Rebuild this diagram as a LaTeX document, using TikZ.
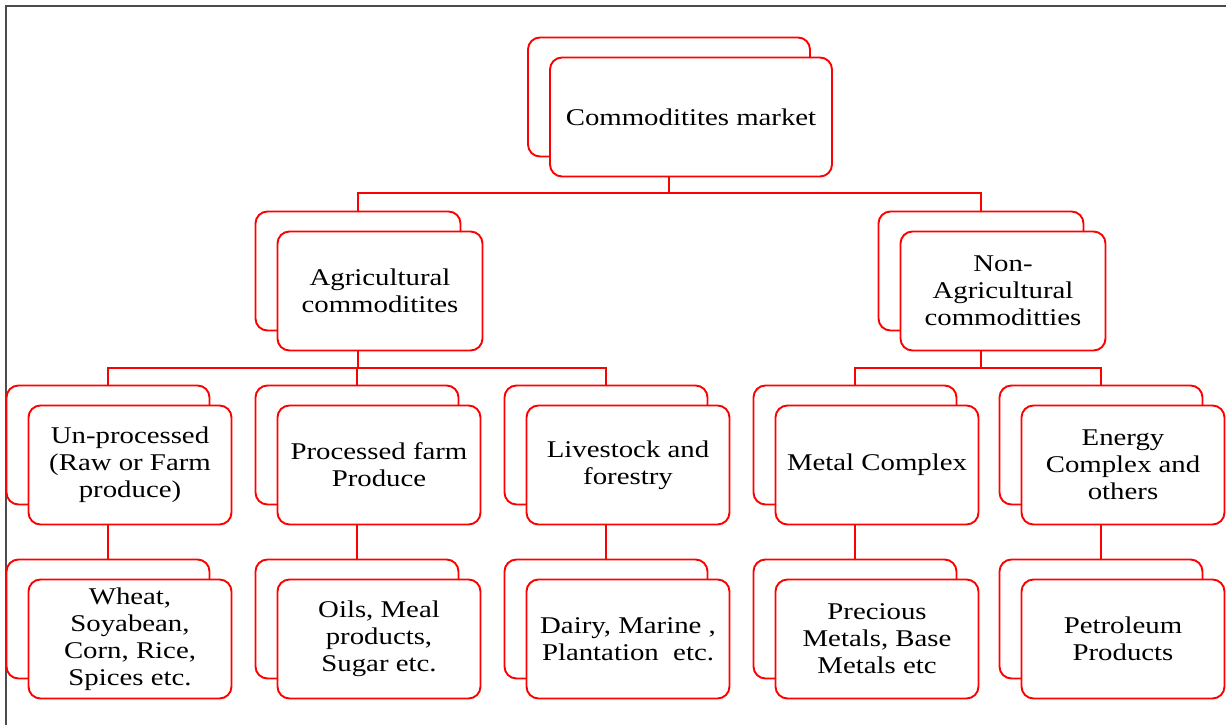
\documentclass[tikz,border=0pt]{standalone}
\usepackage{fontspec}
\setmainfont{Liberation Serif}[FakeStretch=1.2]
\begin{document}
\begin{tikzpicture}[x=1pt,y=-1pt,
  box/.style={draw=red, line width=1.9pt, fill=white, rounded corners=12pt,
    minimum width=203pt, minimum height=119pt, inner sep=0pt, align=center,
    font=\fontsize{24}{27}\selectfont, text=black},
  conn/.style={draw=red, line width=1.9pt},
  frame/.style={draw=black!70, line width=1.5pt}]
\useasboundingbox (0,0) rectangle (1226,725);
\newcommand\dbox[5][203]{%
  \node[box, minimum width=#1pt] (#2b) at (#3-22,#4-20) {};
  \node[box, minimum width=#1pt] (#2) at (#3,#4) {#5};}
\draw[frame] (6,725) -- (6,6) -- (1226,6);
% level 1
\dbox[282]{t}{691}{117}{Commoditites market}
% level 2
\dbox[205]{a}{380}{291}{Agricultural\\commoditites}
\dbox[205]{n}{1003}{291}{Non-\\Agricultural\\commoditties}
% level 3
\dbox{u1}{130}{465}{Un-processed\\(Raw or Farm\\produce)}
\dbox{u2}{379}{465}{Processed farm\\Produce}
\dbox{u3}{628}{465}{Livestock and\\forestry}
\dbox{u4}{877}{465}{Metal Complex}
\dbox{u5}{1123}{465}{Energy\\Complex and\\others}
% level 4
\dbox{v1}{130}{639}{Wheat,\\Soyabean,\\Corn, Rice,\\Spices etc.}
\dbox{v2}{379}{639}{Oils, Meal\\products,\\Sugar etc.}
\dbox{v3}{628}{639}{Dairy, Marine ,\\Plantation\ \ etc.}
\dbox{v4}{877}{639}{Precious\\Metals, Base\\Metals etc}
\dbox{v5}{1123}{639}{Petroleum\\Products}
% connectors
\coordinate (bus0) at (0,193);
\coordinate (bus1) at (0,368);
\draw[conn] (t.south -| tb.south) -- (bus0 -| tb.south);
\draw[conn] (ab.north) |- (bus0 -| tb.south) -| (nb.north);
\draw[conn] (a.south -| ab.south) -- (bus1 -| ab.south);
\draw[conn] (u1b.north) |- (bus1 -| ab.south) -| (u3b.north);
\draw[conn] (u2b.north) -- (bus1 -| u2b.north);
\draw[conn] (n.south -| nb.south) -- (bus1 -| nb.south);
\draw[conn] (u4b.north) |- (bus1 -| nb.south) -| (u5b.north);
\foreach \i in {1,...,5}{
  \draw[conn] (u\i.south -| u\i b.south) -- (v\i b.north);
}
\end{tikzpicture}
\end{document}
